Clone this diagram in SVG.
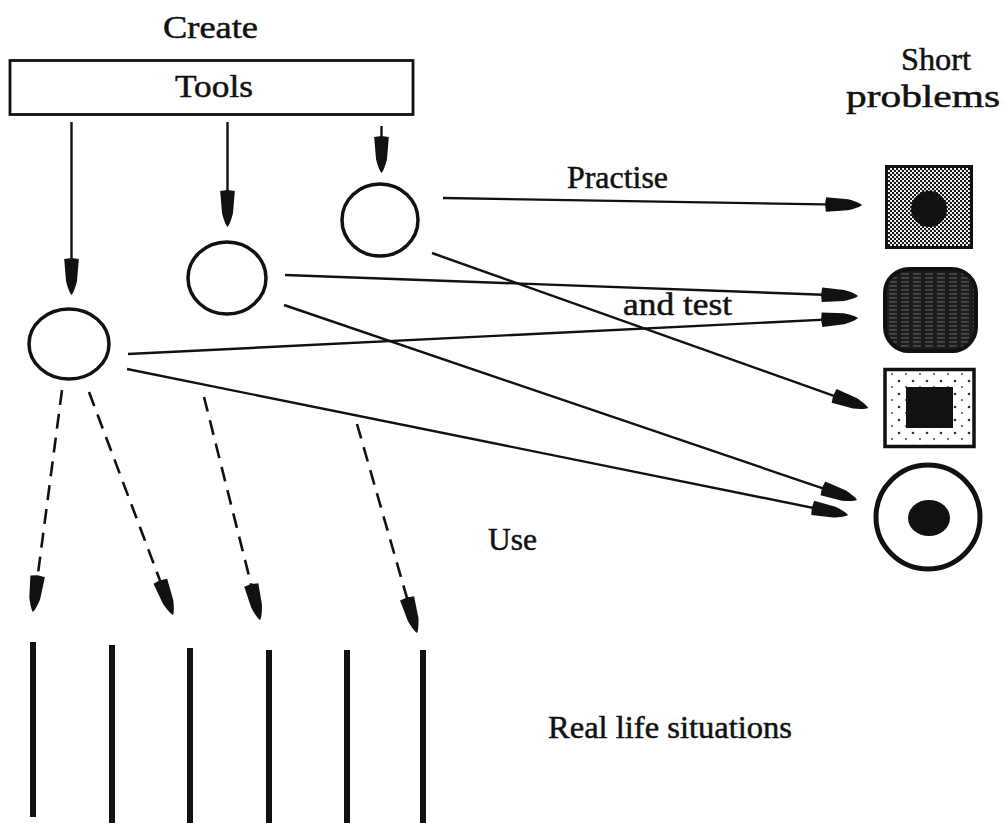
<svg xmlns="http://www.w3.org/2000/svg" width="1006" height="823" viewBox="0 0 1006 823">
  <style>
    .lbl { font-family: "Liberation Serif", "DejaVu Serif", serif; font-size: 32px; fill: #111; stroke: #111; stroke-width: 0.5; }
    .node { fill: none; stroke: #111; stroke-width: 3.5; }
    .conn { fill: none; stroke: #111; stroke-width: 2.4; marker-end: url(#head); }
    .dash { stroke-dasharray: 15 9; stroke-width: 2.6; }
    .bar { stroke: #111; stroke-width: 6; }
  </style>
  <defs>
    <marker id="head" markerUnits="userSpaceOnUse" markerWidth="60" markerHeight="30" refX="0" refY="0" viewBox="-32 -15 60 30" orient="auto" overflow="visible">
      <path d="M8,0 C6,-2 0,-4 -6,-5.5 L-28,-7.3 L-29,0 L-28,7.3 L-6,5.5 C0,4 6,2 8,0 Z" fill="#111"/>
    </marker>
    <pattern id="checker" width="4" height="4" patternUnits="userSpaceOnUse">
      <rect width="4" height="4" fill="#fff"/>
      <circle cx="1" cy="1" r="1.2" fill="#111"/>
      <circle cx="3" cy="3" r="1.2" fill="#111"/>
    </pattern>
    <pattern id="streak" width="12" height="4" patternUnits="userSpaceOnUse">
      <rect width="12" height="4" fill="#1c1c1c"/>
      <rect x="1" y="1.6" width="8" height="0.7" fill="#8a8a8a"/>
    </pattern>
    <pattern id="sparse" width="14" height="13" patternUnits="userSpaceOnUse">
      <rect width="14" height="13" fill="#fff"/>
      <circle cx="3" cy="4" r="1.3" fill="#333"/>
      <circle cx="10" cy="10" r="1.1" fill="#555"/>
    </pattern>
  </defs>

  <g id="create-label">
    <text class="lbl" x="163" y="38" textLength="95" lengthAdjust="spacingAndGlyphs">Create</text>
  </g>
  <g id="tools">
    <rect x="10" y="60.5" width="403" height="54" fill="#fff" stroke="#111" stroke-width="2.8"/>
    <text class="lbl" x="175" y="97" textLength="78" lengthAdjust="spacingAndGlyphs">Tools</text>
  </g>

  <g id="tool-circle-1"><ellipse class="node" cx="69" cy="344" rx="40" ry="35"/></g>
  <g id="tool-circle-2"><ellipse class="node" cx="227" cy="278" rx="39" ry="36"/></g>
  <g id="tool-circle-3"><ellipse class="node" cx="380" cy="220" rx="38" ry="36"/></g>

  <g id="short-problems-label">
    <text class="lbl" x="901" y="70" textLength="70" lengthAdjust="spacingAndGlyphs">Short</text>
    <text class="lbl" x="846" y="107" textLength="154" lengthAdjust="spacingAndGlyphs">problems</text>
  </g>

  <g id="problem-1">
    <rect x="886.5" y="166.5" width="85" height="81" fill="url(#checker)" stroke="#111" stroke-width="3"/>
    <circle cx="929" cy="209" r="18" fill="#111"/>
  </g>
  <g id="problem-2">
    <rect x="885" y="269" width="91" height="82" rx="24" ry="24" fill="url(#streak)" stroke="#111" stroke-width="4"/>
  </g>
  <g id="problem-3">
    <rect x="885" y="369.5" width="89" height="77" fill="url(#sparse)" stroke="#111" stroke-width="3.5"/>
    <rect x="906" y="387" width="47" height="41" fill="#111"/>
  </g>
  <g id="problem-4">
    <circle cx="928" cy="517" r="52" fill="#fff" stroke="#111" stroke-width="5"/>
    <ellipse cx="929" cy="518" rx="21" ry="18" fill="#111"/>
  </g>

  <g id="labels">
    <text class="lbl" x="567" y="188" textLength="101" lengthAdjust="spacingAndGlyphs">Practise</text>
    <text class="lbl" x="623" y="315" textLength="109" lengthAdjust="spacingAndGlyphs">and test</text>
    <text class="lbl" x="488" y="550" textLength="49" lengthAdjust="spacingAndGlyphs">Use</text>
  </g>

  <g id="connectors">
    <line class="conn" x1="71.5" y1="122" x2="71.5" y2="287"/>
    <line class="conn" x1="227.5" y1="122" x2="227.5" y2="219"/>
    <line class="conn" x1="381.5" y1="126" x2="381.5" y2="165"/>
    <line class="conn" x1="443" y1="198" x2="854" y2="204.9"/>
    <line class="conn" x1="285" y1="275" x2="850" y2="295.7"/>
    <line class="conn" x1="128" y1="354" x2="850" y2="318.4"/>
    <line class="conn" x1="432" y1="253" x2="860.5" y2="405.3"/>
    <line class="conn" x1="284" y1="305" x2="849.4" y2="497.4"/>
    <line class="conn" x1="127" y1="369" x2="840.2" y2="513.4"/>
    <line class="conn dash" x1="62" y1="390" x2="34" y2="604.1"/>
    <line class="conn dash" x1="89" y1="392" x2="170.2" y2="607.5"/>
    <line class="conn dash" x1="204" y1="397" x2="258.1" y2="612.2"/>
    <line class="conn dash" x1="357" y1="424" x2="414.8" y2="625.3"/>
  </g>

  <g id="real-life-situations">
    <line class="bar" x1="33" y1="642" x2="33" y2="817"/>
    <line class="bar" x1="112" y1="645" x2="112" y2="823"/>
    <line class="bar" x1="190" y1="648" x2="190" y2="823"/>
    <line class="bar" x1="269" y1="650" x2="269" y2="823"/>
    <line class="bar" x1="347" y1="650" x2="347" y2="823"/>
    <line class="bar" x1="423" y1="650" x2="423" y2="823"/>
    <text class="lbl" x="548" y="738" textLength="244" lengthAdjust="spacingAndGlyphs">Real life situations</text>
  </g>
</svg>
